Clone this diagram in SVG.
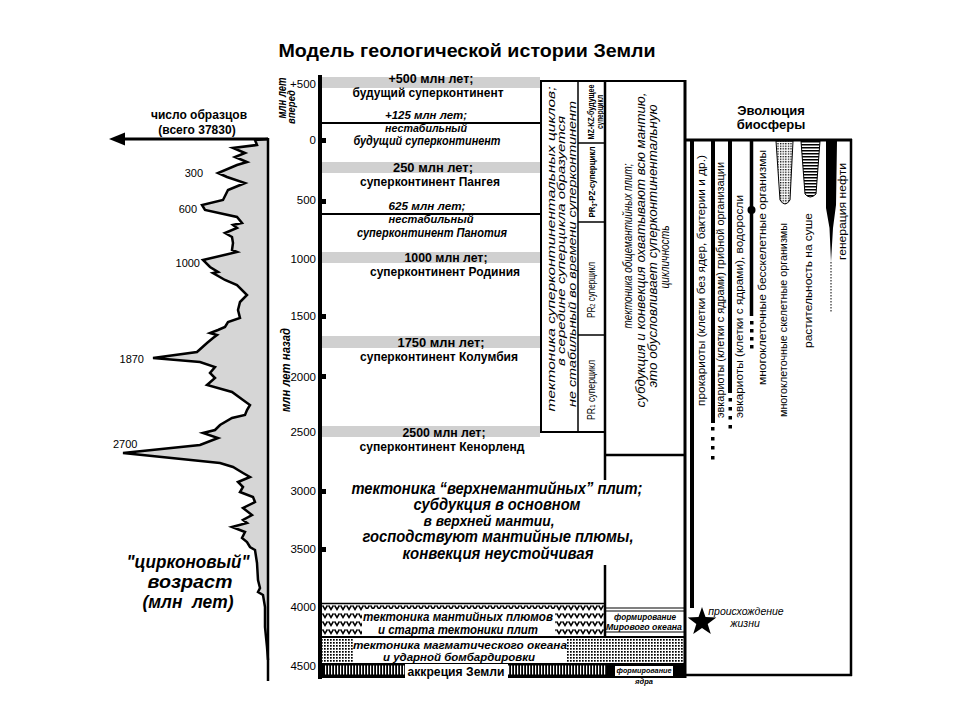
<svg xmlns="http://www.w3.org/2000/svg" width="960" height="720" viewBox="0 0 960 720">
<defs>
<style>
text{font-family:"Liberation Sans",Arial,sans-serif;fill:#000}
.b{font-weight:bold}
.i{font-style:italic}
.bi{font-weight:bold;font-style:italic}
.t11{font-size:11px}
.t12{font-size:12px}
.t13{font-size:13px}
.ln{stroke:#000;fill:none}
.band{fill:#d0d0d0}
.tick{font-size:11.5px;text-anchor:end}
.m{text-anchor:middle}
.bio{font-size:11.5px}
</style>
<pattern id="vv" width="6" height="8" patternUnits="userSpaceOnUse" x="322" y="604"><path d="M0.6,1.5 L3,5.5 L5.4,1.5" fill="none" stroke="#000" stroke-width="1.5"/></pattern>
<pattern id="dots" width="3" height="3" patternUnits="userSpaceOnUse"><rect width="1.7" height="1.7" fill="#000"/></pattern>
<pattern id="vstr" width="3" height="12" patternUnits="userSpaceOnUse"><rect width="3" height="12" fill="#000"/><rect x="1" width="1.2" height="12" fill="#fff"/></pattern>
<pattern id="hstr" width="6" height="3" patternUnits="userSpaceOnUse"><rect width="6" height="1.5" fill="#000"/></pattern>
<pattern id="dots2" width="2.6" height="2.6" patternUnits="userSpaceOnUse"><rect width="1.3" height="1.3" fill="#000"/></pattern>
</defs>
<rect width="960" height="720" fill="#fff"/>

<g id="title"><text class="b m" x="467" y="57" font-size="19" textLength="377" lengthAdjust="spacingAndGlyphs">Модель геологической истории Земли</text></g>

<g id="zircon-chart">
<polygon fill="#d6d6d6" points="268,139 255,140 257,145 233,148 245,153 235,157 247,162 237,165 218,173 227,177 245,183 228,190 223,200 202,205 205,210 237,217 242,223 233,225 237,228 225,233 232,237 233,243 232,250 237,252 203,260 210,267 218,272 213,273 225,280 237,285 247,295 240,302 238,310 240,318 228,322 225,327 218,330 210,333 217,335 213,338 207,343 197,352 153,358 200,362 215,367 210,373 215,378 207,385 232,392 243,400 250,405 247,410 245,415 232,418 220,425 215,430 203,433 218,438 200,445 123,453 220,463 233,467 243,473 250,477 238,482 243,487 240,492 253,497 255,502 243,508 252,515 243,520 247,523 232,527 245,532 242,538 247,542 250,547 255,550 257,563 258,580 260,588 258,592 263,595 265,607 265,627 267,647 268,660"/>
<polyline class="ln" stroke-width="2.5" points="268,139 255,140 257,145 233,148 245,153 235,157 247,162 237,165 218,173 227,177 245,183 228,190 223,200 202,205 205,210 237,217 242,223 233,225 237,228 225,233 232,237 233,243 232,250 237,252 203,260 210,267 218,272 213,273 225,280 237,285 247,295 240,302 238,310 240,318 228,322 225,327 218,330 210,333 217,335 213,338 207,343 197,352 153,358 200,362 215,367 210,373 215,378 207,385 232,392 243,400 250,405 247,410 245,415 232,418 220,425 215,430 203,433 218,438 200,445 123,453 220,463 233,467 243,473 250,477 238,482 243,487 240,492 253,497 255,502 243,508 252,515 243,520 247,523 232,527 245,532 242,538 247,542 250,547 255,550 257,563 258,580 260,588 258,592 263,595 265,607 265,627 267,647 268,660"/>
<line class="ln" x1="268" y1="138" x2="268" y2="681" stroke-width="2.5"/>
<text class="t11" x="203" y="177" text-anchor="end">300</text>
<text class="t11" x="197" y="213" text-anchor="end">600</text>
<text class="t11" x="200" y="267" text-anchor="end">1000</text>
<text class="t11" x="144" y="363" text-anchor="end">1870</text>
<text class="t11" x="113" y="448">2700</text>
<text class="b t12 m" x="199" y="119">число образцов</text>
<text class="b t12 m" x="197" y="134">(всего 37830)</text>
<text class="bi m" x="188" y="568" font-size="18" textLength="123" lengthAdjust="spacingAndGlyphs">"цирконовый"</text>
<text class="bi m" x="190" y="588" font-size="18" textLength="85" lengthAdjust="spacingAndGlyphs">возраст</text>
<text class="bi m" x="188" y="608" font-size="18" textLength="91" lengthAdjust="spacingAndGlyphs" xml:space="preserve">(млн  лет)</text>
</g>

<g id="connectors">
<line class="ln" x1="268" y1="139" x2="124" y2="139" stroke-width="3"/>
<polygon points="109,139 125,132.5 125,145.5" fill="#000"/>
</g>

<g id="time-axis">
<line class="ln" x1="320" y1="75" x2="320" y2="679" stroke-width="4"/>
<g fill="#000">
<rect x="320" y="138" width="6" height="5"/>
<rect x="320" y="199" width="6" height="5"/>
<rect x="320" y="314" width="6" height="5"/>
<rect x="320" y="374" width="6" height="5"/>
<rect x="320" y="489" width="6" height="5"/>
<rect x="320" y="547" width="6" height="5"/>
</g>
<text class="tick" x="316" y="88">+500</text>
<text class="tick" x="316" y="144">0</text>
<text class="tick" x="316" y="204">500</text>
<text class="tick" x="316" y="263">1000</text>
<text class="tick" x="316" y="320">1500</text>
<text class="tick" x="316" y="381">2000</text>
<text class="tick" x="316" y="436">2500</text>
<text class="tick" x="316" y="495">3000</text>
<text class="tick" x="316" y="553">3500</text>
<text class="tick" x="316" y="611">4000</text>
<text class="tick" x="316" y="670">4500</text>
<text class="bi t13 m" transform="translate(286,98) rotate(-90)" textLength="41" lengthAdjust="spacingAndGlyphs">млн лет</text>
<text class="bi m" font-size="10.5" transform="translate(295,107) rotate(-90)" textLength="34" lengthAdjust="spacingAndGlyphs">вперед</text>
<text class="bi t13 m" transform="translate(290,370) rotate(-90)" textLength="84" lengthAdjust="spacingAndGlyphs">млн лет назад</text>
</g>

<g id="supercontinents">
<rect class="band" x="322" y="77" width="218" height="11"/>
<rect class="band" x="322" y="162" width="218" height="11"/>
<rect class="band" x="322" y="252" width="218" height="11"/>
<rect class="band" x="322" y="336" width="218" height="12"/>
<rect class="band" x="322" y="426" width="218" height="11"/>
<line class="ln" x1="322" y1="123" x2="540" y2="123" stroke-width="2"/>
<line class="ln" x1="322" y1="214" x2="540" y2="214" stroke-width="2"/>
<text class="b t12 m" x="431" y="83" textLength="85" lengthAdjust="spacingAndGlyphs">+500 млн лет;</text>
<text class="b t12 m" x="428" y="96.5" textLength="151" lengthAdjust="spacingAndGlyphs">будущий суперконтинент</text>
<text class="bi t11 m" x="426" y="119" textLength="82" lengthAdjust="spacingAndGlyphs">+125 млн лет;</text>
<text class="bi t11 m" x="426" y="131.5" textLength="82" lengthAdjust="spacingAndGlyphs">нестабильный</text>
<text class="bi t12 m" x="427" y="145" textLength="147" lengthAdjust="spacingAndGlyphs">будущий суперконтинент</text>
<text class="b t13 m" x="433" y="172" textLength="80" lengthAdjust="spacingAndGlyphs">250 млн лет;</text>
<text class="b t13 m" x="430" y="186" textLength="140" lengthAdjust="spacingAndGlyphs">суперконтинент Пангея</text>
<text class="bi t11 m" x="427" y="210" textLength="77" lengthAdjust="spacingAndGlyphs">625 млн лет;</text>
<text class="bi t11 m" x="431" y="223" textLength="85" lengthAdjust="spacingAndGlyphs">нестабильный</text>
<text class="bi t12 m" x="432" y="236.5" textLength="150" lengthAdjust="spacingAndGlyphs">суперконтинент Панотия</text>
<text class="b t13 m" x="446" y="262" textLength="83" lengthAdjust="spacingAndGlyphs">1000 млн лет;</text>
<text class="b t13 m" x="445" y="276" textLength="150" lengthAdjust="spacingAndGlyphs">суперконтинент Родиния</text>
<text class="b t13 m" x="441" y="347" textLength="87" lengthAdjust="spacingAndGlyphs">1750 млн лет;</text>
<text class="b t13 m" x="439" y="361" textLength="158" lengthAdjust="spacingAndGlyphs">суперконтинент Колумбия</text>
<text class="b t13 m" x="444" y="437" textLength="83" lengthAdjust="spacingAndGlyphs">2500 млн лет;</text>
<text class="b t13 m" x="442" y="450.5" textLength="165" lengthAdjust="spacingAndGlyphs">суперконтинент Кенорленд</text>
</g>

<g id="supercycles">
<rect x="541" y="81" width="64" height="351" fill="none" stroke="#000" stroke-width="2"/>
<line class="ln" x1="578" y1="81" x2="578" y2="432" stroke-width="1.5"/>
<line class="ln" x1="578" y1="143" x2="605" y2="143" stroke-width="1.5"/>
<line class="ln" x1="578" y1="222" x2="605" y2="222" stroke-width="1.5"/>
<line class="ln" x1="578" y1="335" x2="605" y2="335" stroke-width="1.5"/>
<text class="i t11 m" transform="translate(555,249) rotate(-90)" textLength="325" lengthAdjust="spacingAndGlyphs">тектоника суперконтинентальных циклов;</text>
<text class="i t11 m" transform="translate(565,241) rotate(-90)" textLength="250" lengthAdjust="spacingAndGlyphs">в середине суперцикла образуется</text>
<text class="i t11 m" transform="translate(576,254) rotate(-90)" textLength="306" lengthAdjust="spacingAndGlyphs">не стабильный во времени суперконтинент</text>
<text class="b m" font-size="9" transform="translate(593.5,112) rotate(-90)" textLength="55" lengthAdjust="spacingAndGlyphs">MZ-KZ-будущее</text>
<text class="b m" font-size="9" transform="translate(603,112) rotate(-90)" textLength="34" lengthAdjust="spacingAndGlyphs">суперцикл</text>
<text class="b m" font-size="9.5" transform="translate(595,182) rotate(-90)" textLength="71" lengthAdjust="spacingAndGlyphs">PR<tspan font-size="6.5" dy="2">3</tspan><tspan dy="-2">-PZ-суперцикл</tspan></text>
<text class="m" font-size="11" transform="translate(595,290) rotate(-90)" textLength="56" lengthAdjust="spacingAndGlyphs">PR<tspan font-size="7.5">2</tspan> суперцикл</text>
<text class="m" font-size="11" transform="translate(595,390) rotate(-90)" textLength="60" lengthAdjust="spacingAndGlyphs">PR<tspan font-size="7.5">1</tspan> суперцикл</text>
</g>

<g id="whole-mantle">
<line class="ln" x1="605" y1="81" x2="685" y2="81" stroke-width="2"/>
<line class="ln" x1="605" y1="81" x2="605" y2="480" stroke-width="2.5"/>
<line class="ln" x1="605" y1="565" x2="605" y2="637" stroke-width="2.5"/>
<line class="ln" x1="605" y1="455" x2="685" y2="455" stroke-width="2.5"/>
<line class="ln" x1="685" y1="80" x2="685" y2="678" stroke-width="3"/>
<text class="i m" font-size="13.5" transform="translate(632,246) rotate(-90)" textLength="165" lengthAdjust="spacingAndGlyphs">тектоника общемантийных плит;</text>
<text class="i m" font-size="13.5" transform="translate(645,250) rotate(-90)" textLength="315" lengthAdjust="spacingAndGlyphs">субдукция и конвекция охватывают всю мантию,</text>
<text class="i m" font-size="13.5" transform="translate(657,246) rotate(-90)" textLength="283" lengthAdjust="spacingAndGlyphs">это обусловливает суперконтинентальную</text>
<text class="i m" font-size="13.5" transform="translate(669,257) rotate(-90)" textLength="63" lengthAdjust="spacingAndGlyphs">цикличность</text>
</g>

<g id="upper-mantle">
<text class="bi m" font-size="16" x="497" y="494" textLength="291" lengthAdjust="spacingAndGlyphs">тектоника “верхнемантийных” плит;</text>
<text class="bi m" font-size="16" x="497" y="510" textLength="167" lengthAdjust="spacingAndGlyphs">субдукция в основном</text>
<text class="bi m" font-size="15" x="489" y="526" textLength="131" lengthAdjust="spacingAndGlyphs">в верхней мантии,</text>
<text class="bi m" font-size="16" x="498" y="542" textLength="271" lengthAdjust="spacingAndGlyphs">господствуют мантийные плюмы,</text>
<text class="bi m" font-size="16" x="498" y="559" textLength="191" lengthAdjust="spacingAndGlyphs">конвекция неустойчивая</text>
</g>

<g id="plumes">
<rect x="322" y="604" width="283" height="32" fill="url(#vv)"/>
<line class="ln" x1="322" y1="603.5" x2="605" y2="603.5" stroke-width="1.5"/>
<line class="ln" x1="322" y1="637" x2="685" y2="637" stroke-width="2"/>
<rect x="362" y="609" width="193" height="27" fill="#fff"/>
<text class="bi t12 m" x="458" y="621" textLength="190" lengthAdjust="spacingAndGlyphs">тектоника мантийных плюмов</text>
<text class="bi t12 m" x="458" y="634" textLength="160" lengthAdjust="spacingAndGlyphs">и старта тектоники плит</text>
</g>

<g id="ocean">
<line class="ln" x1="605" y1="608" x2="685" y2="608" stroke-width="1.2"/>
<line class="ln" x1="605" y1="611" x2="685" y2="611" stroke-width="1.2"/>
<line class="ln" x1="605" y1="632" x2="685" y2="632" stroke-width="1.2"/>
<text class="bi m" font-size="9" x="645" y="620" textLength="62" lengthAdjust="spacingAndGlyphs">формирование</text>
<text class="bi m" font-size="9" x="644" y="629.5" textLength="76" lengthAdjust="spacingAndGlyphs">Мирового океана</text>
</g>

<g id="magma-ocean">
<rect x="322" y="638" width="362" height="25" fill="url(#dots)"/>
<rect x="353" y="639" width="214" height="23" fill="#fff"/>
<text class="bi m" font-size="11.5" x="460" y="649" textLength="214" lengthAdjust="spacingAndGlyphs">тектоника магматического океана</text>
<text class="bi m" font-size="11.5" x="459" y="661" textLength="152" lengthAdjust="spacingAndGlyphs">и ударной бомбардировки</text>
</g>

<g id="accretion">
<rect x="322" y="663" width="363" height="15" fill="#000"/>
<rect x="324" y="665.5" width="282" height="9" fill="url(#vstr)"/>
<rect x="405" y="664" width="103" height="14" fill="#fff"/>
<text class="b m" font-size="13.5" x="456" y="676" textLength="97" lengthAdjust="spacingAndGlyphs">аккреция Земли</text>
<rect x="615" y="666" width="58" height="10" fill="#fff"/>
<text class="bi m" font-size="7.5" x="644" y="673" textLength="55" lengthAdjust="spacingAndGlyphs">формирование</text>
<text class="bi m" font-size="7.5" x="644" y="684">ядра</text>
</g>

<g id="biosphere">
<line class="ln" x1="685" y1="140" x2="852" y2="140" stroke-width="3"/>
<line class="ln" x1="851" y1="139" x2="851" y2="676" stroke-width="2.5"/>
<line class="ln" x1="685" y1="675" x2="852" y2="675" stroke-width="2.5"/>
<text class="b t13 m" x="771" y="115">Эволюция</text>
<text class="b t13 m" x="771" y="129">биосферы</text>
<line class="ln" x1="692" y1="139" x2="692" y2="608" stroke-width="4"/>
<line class="ln" x1="713" y1="139" x2="713" y2="423" stroke-width="4"/>
<line class="ln" x1="730" y1="139" x2="730" y2="393" stroke-width="4"/>
<line class="ln" x1="751.5" y1="139" x2="751.5" y2="316" stroke-width="3.5"/>
<circle cx="751.5" cy="210" r="4" fill="#000"/>
<g fill="#000">
<rect x="711" y="427" width="3.5" height="3.5"/><rect x="711" y="437" width="3.5" height="3.5"/><rect x="711" y="446" width="3.5" height="3.5"/><rect x="711" y="456" width="3.5" height="3.5"/>
<rect x="728.5" y="398" width="3.5" height="3.5"/><rect x="728.5" y="407" width="3.5" height="3.5"/><rect x="728.5" y="416" width="3.5" height="3.5"/><rect x="728.5" y="425" width="3.5" height="3.5"/>
<rect x="750" y="321" width="3.5" height="3.5"/><rect x="750" y="329" width="3.5" height="3.5"/><rect x="750" y="337" width="3.5" height="3.5"/><rect x="750" y="345" width="3.5" height="3.5"/>
</g>
<path d="M776,141 L793,141 L790,200 Q785,208 780,200 Z" fill="url(#dots2)" stroke="#000" stroke-width="1"/>
<path d="M801,141 L820,141 L816,194 Q810,200 805,194 Z" fill="url(#hstr)" stroke="#000" stroke-width="1"/>
<path d="M826,141 L837,141 L836,205 L833,228 L831,262 L829.5,228 L826,208 Z" fill="#000"/>
<line x1="831" y1="262" x2="831" y2="312" stroke="#000" stroke-width="1" stroke-dasharray="1.5,1.5"/>
<text class="bio" transform="translate(705,406) rotate(-90)" textLength="251" lengthAdjust="spacingAndGlyphs">прокариоты (клетки без ядер, бактерии и др.)</text>
<text class="bio" transform="translate(724,418) rotate(-90)" textLength="256" lengthAdjust="spacingAndGlyphs">эвкариоты (клетки с  ядрами) грибной организации</text>
<text class="bio" transform="translate(743,418) rotate(-90)" textLength="223" lengthAdjust="spacingAndGlyphs">эвкариоты (клетки с  ядрами), водоросли</text>
<text class="bio" transform="translate(766,385) rotate(-90)" textLength="235" lengthAdjust="spacingAndGlyphs">многоклеточные бесскелетные организмы</text>
<text class="bio" transform="translate(787,417) rotate(-90)" textLength="194" lengthAdjust="spacingAndGlyphs">многоклеточные скелетные организмы</text>
<text class="bio" transform="translate(812,348) rotate(-90)" textLength="135" lengthAdjust="spacingAndGlyphs">растительность на суше</text>
<text class="bio" transform="translate(846,260) rotate(-90)" textLength="97" lengthAdjust="spacingAndGlyphs">генерация нефти</text>
<polygon fill="#000" points="702,607 705.5,617.1 716.3,617.4 707.7,623.9 710.8,634.1 702,628 693.2,634.1 696.3,623.9 687.7,617.4 698.5,617.1"/>
<text class="i m" font-size="10.5" x="746" y="615">происхождение</text>
<text class="i m" font-size="10.5" x="745" y="627">жизни</text>
</g>
</svg>
